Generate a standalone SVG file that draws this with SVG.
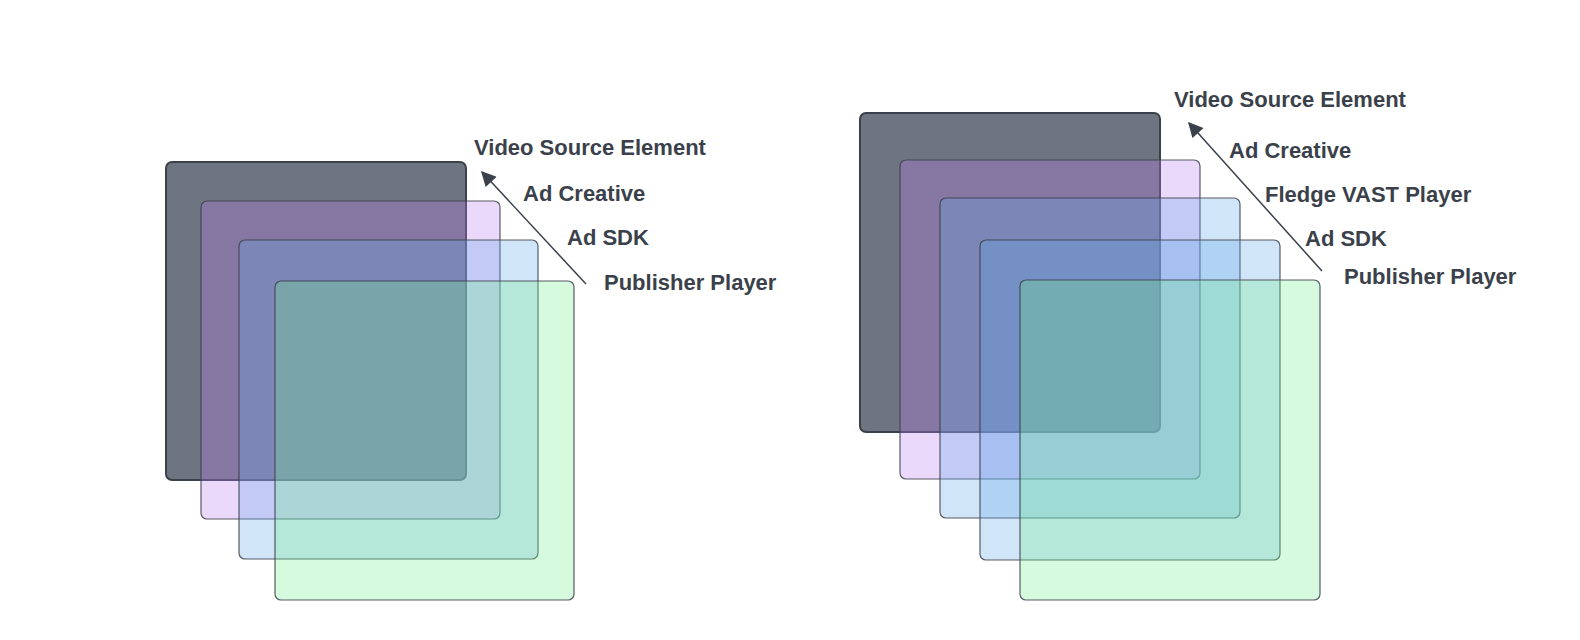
<svg xmlns="http://www.w3.org/2000/svg" width="1580" height="640" viewBox="0 0 1580 640">
<defs>
<style>
.lbl{font-family:"Liberation Sans",Arial,sans-serif;font-weight:bold;font-size:22px;fill:#3a414a}
.dark{fill:#6f7580;stroke:#3a414a;stroke-width:2}
.lay{fill-opacity:0.3;stroke:#3a414a;stroke-width:1.2;stroke-opacity:0.85}
.pur{fill:#bc80f2}
.blu{fill:#68aae8}
.grn{fill:#74f08e}
.arr{stroke:#3a414a;stroke-width:1.5;fill:none;marker-end:url(#ah)}
</style>
<marker id="ah" viewBox="0 0 10 10" refX="9" refY="5" markerWidth="17" markerHeight="15" markerUnits="userSpaceOnUse" orient="auto">
<path d="M0,0 L10,5 L0,10 z" fill="#3a414a"/>
</marker>
</defs>
<rect width="1580" height="640" fill="#ffffff"/>
<g id="left-video-source"><rect class="dark" x="166" y="162" width="300" height="318" rx="6"/></g>
<g id="left-ad-creative"><rect class="lay pur" x="201" y="201" width="299" height="318" rx="6"/></g>
<g id="left-ad-sdk"><rect class="lay blu" x="239" y="240" width="299" height="319" rx="6"/></g>
<g id="left-publisher-player"><rect class="lay grn" x="275" y="281" width="299" height="319" rx="6"/></g>
<g id="right-video-source"><rect class="dark" x="860" y="113" width="300" height="319" rx="6"/></g>
<g id="right-ad-creative"><rect class="lay pur" x="900" y="160" width="300" height="319" rx="6"/></g>
<g id="right-fledge-vast-player"><rect class="lay blu" x="940" y="198" width="300" height="320" rx="6"/></g>
<g id="right-ad-sdk"><rect class="lay blu" x="980" y="240" width="300" height="320" rx="6"/></g>
<g id="right-publisher-player"><rect class="lay grn" x="1020" y="280" width="300" height="320" rx="6"/></g>
<g id="connectors">
<line class="arr" x1="586" y1="284" x2="482" y2="172"/>
<line class="arr" x1="1322" y1="271" x2="1189" y2="123"/>
</g>
<g id="labels">
<text class="lbl" x="474" y="155">Video Source Element</text>
<text class="lbl" x="523" y="201">Ad Creative</text>
<text class="lbl" x="567" y="245">Ad SDK</text>
<text class="lbl" x="604" y="290">Publisher Player</text>
<text class="lbl" x="1174" y="107">Video Source Element</text>
<text class="lbl" x="1229" y="158">Ad Creative</text>
<text class="lbl" x="1265" y="202">Fledge VAST Player</text>
<text class="lbl" x="1305" y="246">Ad SDK</text>
<text class="lbl" x="1344" y="284">Publisher Player</text>
</g>
</svg>
